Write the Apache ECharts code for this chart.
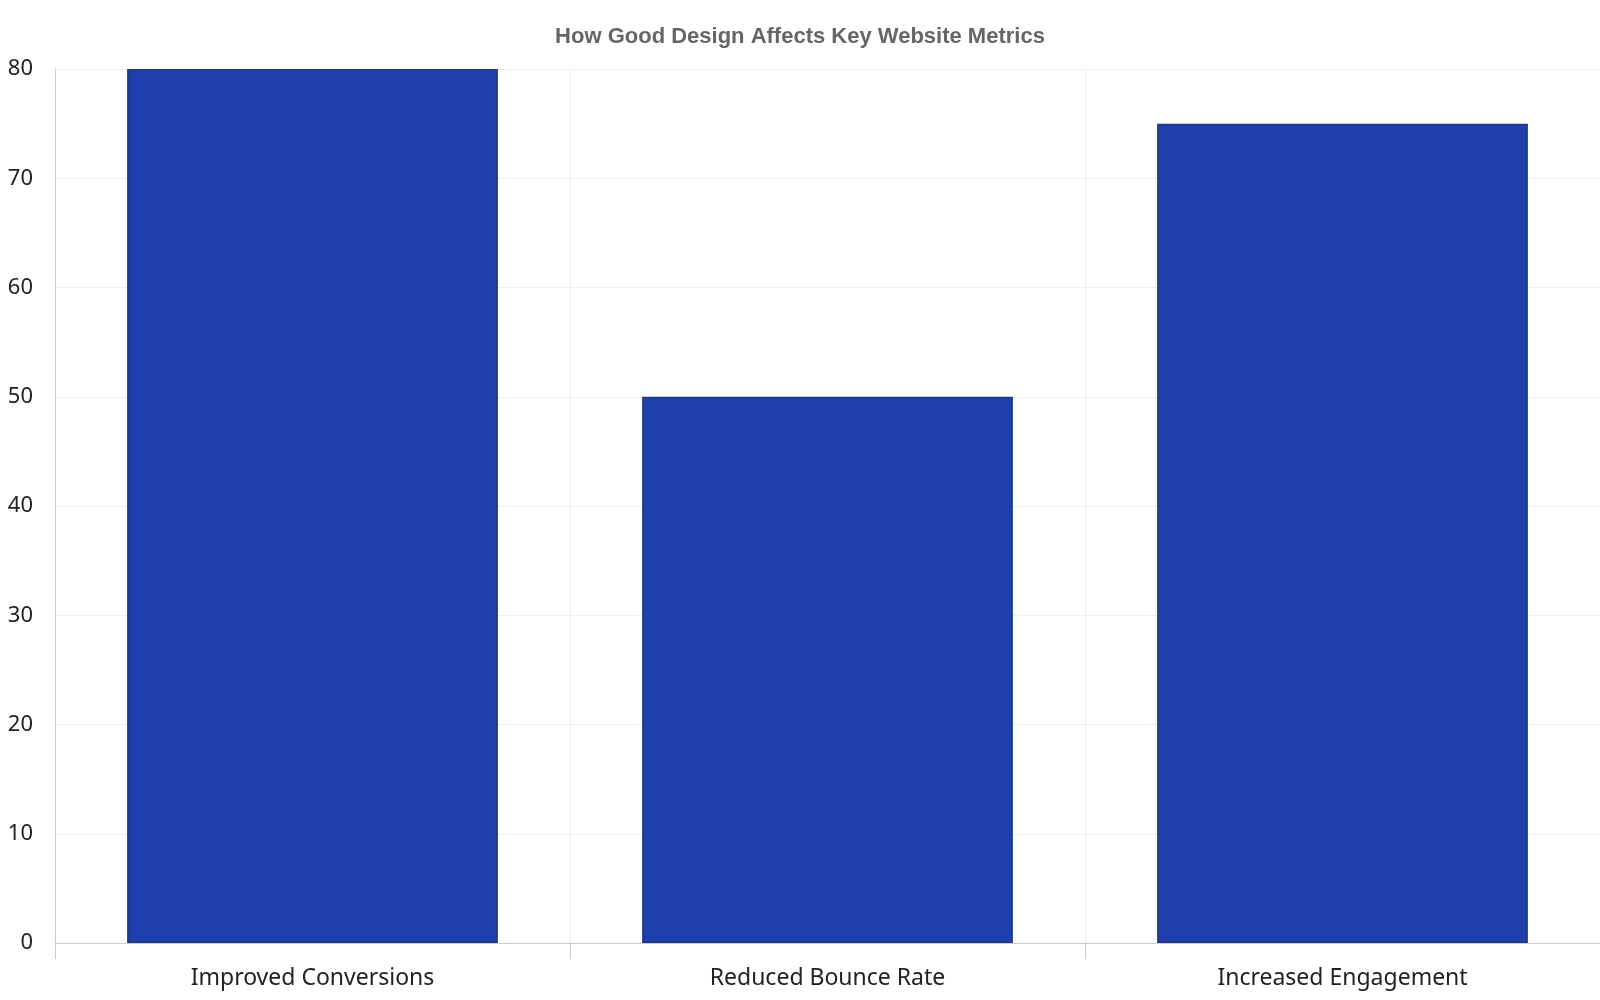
<!DOCTYPE html>
<html><head><meta charset="utf-8">
<script src="https://cdn.jsdelivr.net/npm/echarts@6/dist/echarts.min.js"></script>
<style>html,body{margin:0;padding:0}#c{width:1600px;height:1000px}</style>
</head><body><div id="c"></div>
<script>
const categories = ["Improved Conversions", "Reduced Bounce Rate", "Increased Engagement"];
const values = [80, 50, 75];
const chart = echarts.init(document.getElementById('c'));
chart.setOption({
  animation: false,
  title: { text: "How Good Design Affects Key Website Metrics", left: 'center', top: 21,
    textStyle: { fontFamily: 'Liberation Sans, Arial', fontWeight: 'bold', fontSize: 22, color: '#666' } },
  grid: { left: 55, right: 0, top: 69, bottom: 57 },
  xAxis: { type: 'category', data: categories,
    axisLine: { lineStyle: { color: '#ccc' } },
    axisTick: { show: true, length: 16, lineStyle: { color: '#ccc' } },
    splitLine: { show: true, lineStyle: { color: '#eee' } },
    axisLabel: { fontFamily: 'Noto Sans', fontSize: 23, color: '#222', margin: 24 } },
  yAxis: { type: 'value', min: 0, max: 80, interval: 10,
    axisLine: { show: true, lineStyle: { color: '#ccc' } },
    splitLine: { lineStyle: { color: '#eee' } },
    axisLabel: { fontFamily: 'Noto Sans', fontSize: 22, color: '#222', margin: 22 } },
  series: [{ type: 'bar', data: values, barWidth: '72%',
    itemStyle: { color: '#1e40af', borderColor: '#1e3a8a', borderWidth: 2 } }]
});
</script></body></html>
